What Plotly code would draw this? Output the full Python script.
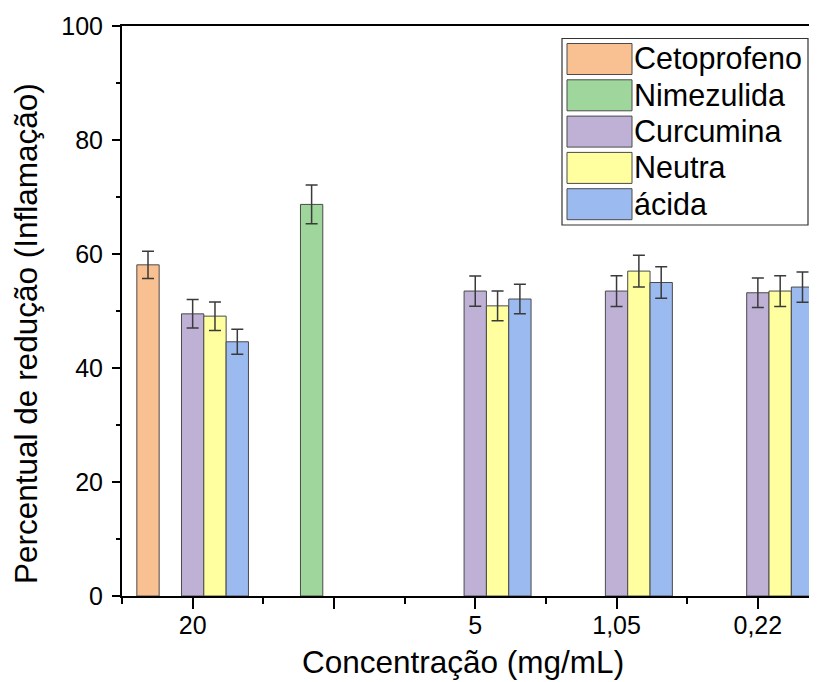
import plotly.graph_objects as go

# ---- data ----
categories = ["20", "", "5", "1,05", "0,22"]
series_names = ["Cetoprofeno", "Nimezulida", "Curcumina", "Neutra", "ácida"]
cetoprofeno = [58.1, None, None, None, None]
cetoprofeno_err = [2.4, None, None, None, None]
nimezulida = [None, 68.7, None, None, None]
nimezulida_err = [None, 3.4, None, None, None]
curcumina = [49.5, None, 53.5, 53.5, 53.2]
curcumina_err = [2.5, None, 2.65, 2.7, 2.6]
neutra = [49.1, None, 50.9, 57.0, 53.5]
neutra_err = [2.5, None, 2.6, 2.8, 2.7]
acida = [44.6, None, 52.1, 55.0, 54.2]
acida_err = [2.2, None, 2.6, 2.75, 2.65]
y_ticks = [0, 20, 40, 60, 80, 100]
x_title = "Concentração (mg/mL)"
y_title = "Percentual de redução (Inflamação)"

values = [cetoprofeno, nimezulida, curcumina, neutra, acida]
errors = [cetoprofeno_err, nimezulida_err, curcumina_err, neutra_err, acida_err]
colors = ["#F9C191", "#9FD69B", "#BFB1D6", "#FFFFA0", "#9BBAF0"]

FONT = "Arial, Liberation Sans, sans-serif"
W, H = 817, 682
OFF = 8  # page body offset
ML, MR, MT, MB = 114, 0, 18, 94

x_pos = list(range(len(categories)))

fig = go.Figure()
for name, v, e, c in zip(series_names, values, errors, colors):
    fig.add_trace(go.Bar(
        x=x_pos, y=v, name=name, marker=dict(color=c, line=dict(color="#4a4a4a", width=1)),
        error_y=dict(type="data", array=e, visible=True, color="#3a3a3a", thickness=1.5, width=6),
        showlegend=False,
    ))

# screenshot pixel -> paper helpers
pw = W - ML - MR
ph = H - MT - MB
def px(sx):
    return (sx - OFF - ML) / pw
def py(sy):
    return (H - MB + OFF - sy) / ph

shapes = [dict(type="rect", xref="paper", yref="paper", x0=px(562), x1=px(808), y0=py(225), y1=py(38.5),
               line=dict(color="#333333", width=1.2), fillcolor="white", layer="above")]
annotations = []
for i, (name, c) in enumerate(zip(series_names, colors)):
    top = 43.5 + 36.3 * i
    shapes.append(dict(type="rect", xref="paper", yref="paper", x0=px(567), x1=px(632),
                       y0=py(top + 31), y1=py(top), fillcolor=c,
                       line=dict(color="#4a4a4a", width=1), layer="above"))
    annotations.append(dict(xref="paper", yref="paper", x=px(632), y=py(top + 15), text=name,
                            showarrow=False, xanchor="left", yanchor="middle",
                            font=dict(family=FONT, size=30.5, color="black")))

# axis titles
annotations.append(dict(xref="paper", yref="paper", x=px(463), y=py(662), text=x_title,
                        showarrow=False, xanchor="center", yanchor="middle",
                        font=dict(family=FONT, size=31.5, color="black")))
annotations.append(dict(xref="paper", yref="paper", x=px(26), y=py(334), text=y_title, textangle=-90,
                        showarrow=False, xanchor="center", yanchor="middle",
                        font=dict(family=FONT, size=31.5, color="black")))

x_right = -0.5 + pw / 141.3

fig.update_layout(
    width=W, height=H,
    margin=dict(l=ML, r=MR, t=MT, b=MB),
    paper_bgcolor="white", plot_bgcolor="white",
    barmode="group", bargap=0.21, bargroupgap=0,
    font=dict(family=FONT, color="black"),
    shapes=shapes, annotations=annotations,
    showlegend=False,
)
fig.update_xaxes(
    range=[-0.5, x_right], tickmode="array", tickvals=x_pos, ticktext=categories,
    showline=True, linecolor="black", linewidth=2, mirror=True,
    ticks="outside", ticklen=11, tickwidth=2, tickcolor="black",
    tickfont=dict(size=25, family=FONT, color="black"),
    ticklabelstandoff=-5,
    minor=dict(tickvals=[-0.5, 0.5, 1.5, 2.5, 3.5], ticks="outside", ticklen=6, tickwidth=2, tickcolor="black"),
    showgrid=False, zeroline=False,
)
fig.update_yaxes(
    range=[0, 100], tickmode="array", tickvals=y_ticks,
    showline=True, linecolor="black", linewidth=2, mirror=False,
    ticks="outside", ticklen=8, tickwidth=2, tickcolor="black",
    tickfont=dict(size=25, family=FONT, color="black"),
    ticklabelstandoff=4,
    minor=dict(dtick=10, ticks="outside", ticklen=4, tickwidth=2, tickcolor="black"),
    showgrid=False, zeroline=False,
)

fig.write_html("out.html")
